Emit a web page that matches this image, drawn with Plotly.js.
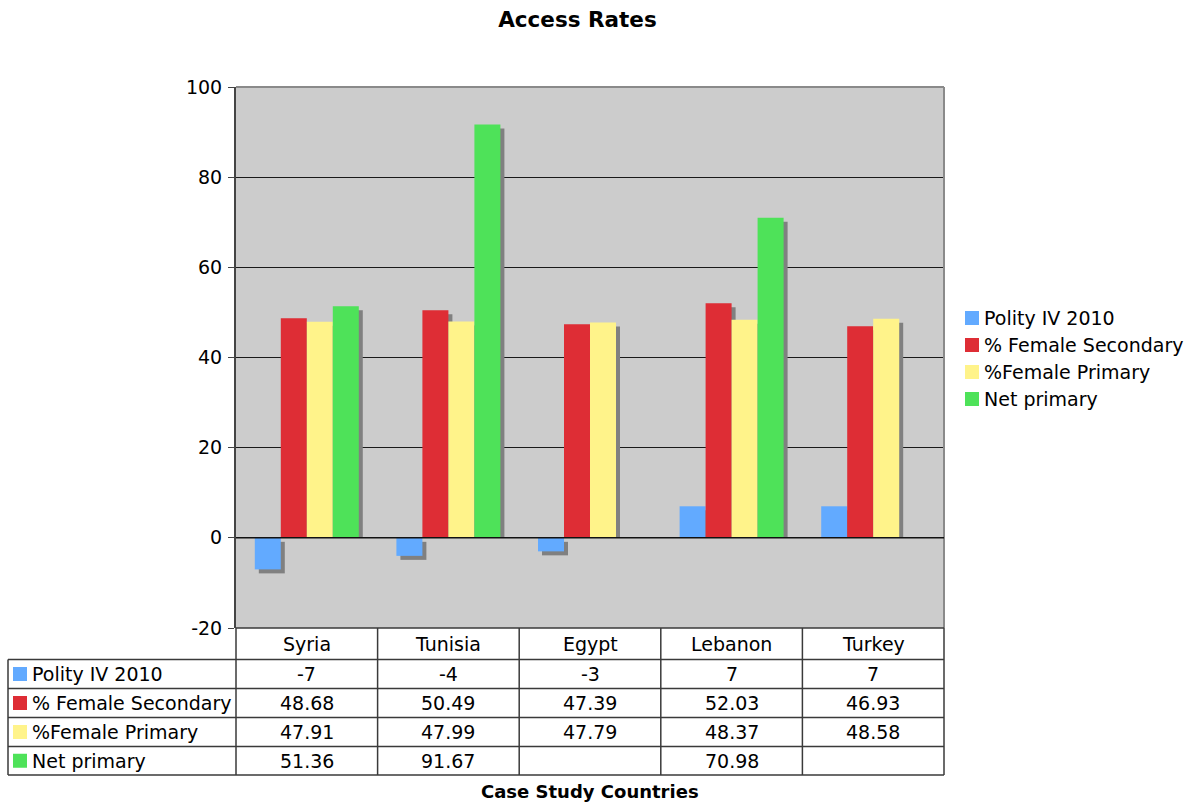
<!DOCTYPE html>
<html>
<head>
<meta charset="utf-8">
<script src="https://cdn.plot.ly/plotly-3.0.1.min.js"></script>
<style>
  html, body { margin: 0; padding: 0; background: #ffffff; }
  #chart { width: 1188px; height: 804px; }
</style>
</head>
<body>
<div id="chart"></div>
<script>
// Access rates by case study country
const countries = ['Syria', 'Tunisia', 'Egypt', 'Lebanon', 'Turkey'];
const seriesNames = ['Polity IV 2010', '% Female Secondary', '%Female Primary', 'Net primary'];
const polity = [-7, -4, -3, 7, 7];
const femaleSecondary = [48.68, 50.49, 47.39, 52.03, 46.93];
const femalePrimary = [47.91, 47.99, 47.79, 48.37, 48.58];
const netPrimary = [51.36, 91.67, null, 70.98, null];
const yTicks = [-20, 0, 20, 40, 60, 80, 100];

const seriesValues = [polity, femaleSecondary, femalePrimary, netPrimary];
const seriesDecimals = [0, 2, 2, 2];
const colors = ['#62aaff', '#de2d35', '#fff38a', '#4ee259'];
const shadowColor = '#808080';

// Geometry of the figure (pixels)
const W = 1188, H = 804;
const M = { l: 236, r: 244, t: 87, b: 176, autoexpand: false };
const plotW = W - M.l - M.r;
const plotH = H - M.t - M.b;
const yMin = -20, yMax = 100;
const FONT = 'Verdana, "DejaVu Sans", sans-serif';
const TXT = 19;

// bar layout inside each category slot
const barW = 0.1836;
const nS = seriesValues.length;
const pxPerCatX = plotW / countries.length;
const pxPerUnitY = plotH / (yMax - yMin);
const shX = 4 / pxPerCatX;   // shadow offset in category units
const shY = 4 / pxPerUnitY;  // shadow offset in value units

const traces = [];
// shadows first so the bars sit on top of them
seriesValues.forEach((vals, i) => {
  const off = -nS * barW / 2 + i * barW;
  traces.push({
    type: 'bar', x: countries,
    y: vals.map(v => v === null ? null : (v >= 0 ? v - shY : v)),
    base: vals.map(v => v === null ? null : (v >= 0 ? 0 : -shY)),
    width: barW, offset: off + shX,
    marker: { color: shadowColor, line: { width: 0 } },
    showlegend: false, hoverinfo: 'skip'
  });
});
seriesValues.forEach((vals, i) => {
  const off = -nS * barW / 2 + i * barW;
  traces.push({
    type: 'bar', name: seriesNames[i], x: countries, y: vals,
    width: barW, offset: off,
    marker: { color: colors[i], line: { width: 0 } },
    showlegend: false
  });
});

const pyPaper = (py) => (H - M.b - py) / plotH;   // pixel row -> paper y
const pxPaper = (px) => (px - M.l) / plotW;       // pixel column -> paper x

const shapes = [];
const annotations = [];
const lineStyle = { color: '#3a3a3a', width: 1.5 };
const txtFont = { family: FONT, size: TXT, color: '#000' };

// square colour key followed by a label
function addKey(leftPx, midPx, color, label) {
  shapes.push({ type: 'rect', xref: 'paper', yref: 'paper', x0: pxPaper(leftPx), x1: pxPaper(leftPx + 14),
    y0: pyPaper(midPx + 7), y1: pyPaper(midPx - 7), fillcolor: color, line: { width: 0 } });
  annotations.push({ xref: 'paper', yref: 'paper', x: pxPaper(leftPx + 17), y: pyPaper(midPx), text: label,
    showarrow: false, xanchor: 'left', yanchor: 'middle', font: txtFont });
}

// plot frame (top and right) and zero line
shapes.push({ type: 'line', xref: 'paper', yref: 'paper', x0: 0, x1: 1, y0: 1, y1: 1, line: { color: '#8a8a8a', width: 2 } });
shapes.push({ type: 'line', xref: 'paper', yref: 'paper', x0: 1, x1: 1, y0: 0, y1: 1, line: { color: '#8a8a8a', width: 2 } });
shapes.push({ type: 'line', xref: 'paper', yref: 'y', x0: 0, x1: 1, y0: 0, y1: 0, line: { color: '#111', width: 1.5 }, layer: 'above' });

// legend on the right
seriesNames.forEach((name, i) => addKey(965, 318 + 27 * i, colors[i], name));

// data table below the plot
const rowTops = [628, 659.5, 688.5, 717.5, 746.5, 775];
const tableLeft = 8;
shapes.push({ type: 'line', xref: 'paper', yref: 'paper', x0: 0, x1: 1, y0: pyPaper(rowTops[0]), y1: pyPaper(rowTops[0]), line: lineStyle });
for (let r = 1; r < rowTops.length; r++) {
  shapes.push({ type: 'line', xref: 'paper', yref: 'paper', x0: pxPaper(tableLeft), x1: 1,
    y0: pyPaper(rowTops[r]), y1: pyPaper(rowTops[r]), line: lineStyle });
}
shapes.push({ type: 'line', xref: 'paper', yref: 'paper', x0: pxPaper(tableLeft), x1: pxPaper(tableLeft),
  y0: pyPaper(rowTops[1]), y1: pyPaper(rowTops[5]), line: lineStyle });
for (let k = 0; k <= countries.length; k++) {
  const xp = k / countries.length;
  shapes.push({ type: 'line', xref: 'paper', yref: 'paper', x0: xp, x1: xp,
    y0: pyPaper(rowTops[0]), y1: pyPaper(rowTops[5]), line: lineStyle });
}

const rowMidPx = (r) => (rowTops[r] + rowTops[r + 1]) / 2;

// header row: country names
countries.forEach((c) => {
  annotations.push({ xref: 'x', yref: 'paper', x: c, y: pyPaper(rowMidPx(0)), text: c, showarrow: false,
    xanchor: 'center', yanchor: 'middle', font: txtFont });
});
// one row per series with its key and values
seriesValues.forEach((vals, i) => {
  const mid = rowMidPx(i + 1);
  addKey(13, mid, colors[i], seriesNames[i]);
  vals.forEach((v, j) => {
    if (v === null) return;
    annotations.push({ xref: 'x', yref: 'paper', x: countries[j], y: pyPaper(mid),
      text: v.toFixed(seriesDecimals[i]), showarrow: false,
      xanchor: 'center', yanchor: 'middle', font: txtFont });
  });
});

// category axis title
annotations.push({ xref: 'paper', yref: 'paper', x: 0.5, y: pyPaper(791), text: '<b>Case Study Countries</b>',
  showarrow: false, xanchor: 'center', yanchor: 'middle', font: { family: FONT, size: 18, color: '#000' } });

const layout = {
  width: W, height: H,
  margin: M,
  paper_bgcolor: '#ffffff',
  plot_bgcolor: '#cccccc',
  barmode: 'overlay',
  showlegend: false,
  title: { text: '<b>Access Rates</b>', x: 577.5 / W, xanchor: 'center', y: 1 - 19 / H, yanchor: 'middle',
    font: { family: FONT, size: 21.5, color: '#000' } },
  font: { family: FONT, size: TXT, color: '#000' },
  xaxis: { type: 'category', range: [-0.5, countries.length - 0.5], showticklabels: false,
    ticks: '', showgrid: false, zeroline: false, showline: false, fixedrange: true },
  yaxis: { range: [yMin, yMax], tickvals: yTicks, ticktext: yTicks.map(String),
    ticks: 'outside', ticklen: 6, tickcolor: '#444', tickwidth: 1,
    showline: true, linecolor: '#444', linewidth: 2,
    showgrid: true, gridcolor: '#1a1a1a', gridwidth: 1, zeroline: false,
    tickfont: { family: FONT, size: TXT, color: '#000' }, ticklabelstandoff: 2, fixedrange: true },
  shapes: shapes,
  annotations: annotations
};

Plotly.newPlot('chart', traces, layout, { staticPlot: true, displayModeBar: false });
</script>
</body>
</html>
